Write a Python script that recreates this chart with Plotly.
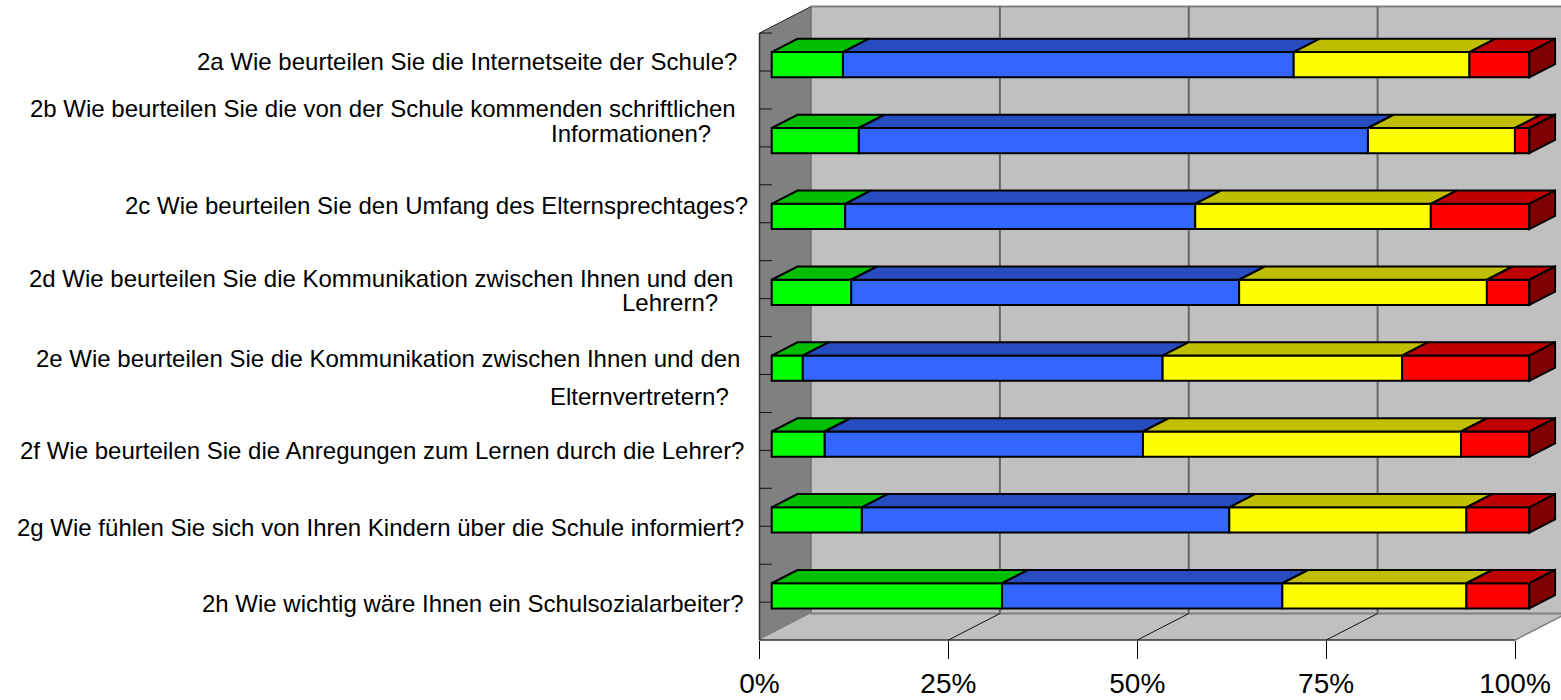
import numpy as np
import plotly.graph_objects as go

# ---- data (percent shares) ----
categories = ["2a", "2b", "2c", "2d", "2e", "2f", "2g", "2h"]
sehr_gut = [9.4, 11.5, 9.7, 10.5, 4.1, 7.0, 11.9, 30.4]
gut = [59.5, 67.2, 46.2, 51.2, 47.5, 42.0, 48.5, 37.0]
weniger_gut = [23.2, 19.4, 31.1, 32.7, 31.6, 42.0, 31.3, 24.3]
schlecht = [7.9, 1.9, 13.0, 5.6, 16.8, 9.0, 8.3, 8.3]
x_ticks = [0, 25, 50, 75, 100]
x_tick_text = ["0%", "25%", "50%", "75%", "100%"]

label_lines = [
    ("2a Wie beurteilen Sie die Internetseite der Schule?", 739, 62),
    ("2b Wie beurteilen Sie die von der Schule kommenden schriftlichen", 738, 109),
    ("Informationen?", 713, 134),
    ("2c Wie beurteilen Sie den Umfang des Elternsprechtages?", 750, 205),
    ("2d Wie beurteilen Sie die Kommunikation zwischen Ihnen und den", 735, 278),
    ("Lehrern?", 720, 302),
    ("2e Wie beurteilen Sie die Kommunikation zwischen Ihnen und den", 742, 358),
    ("Elternvertretern?", 731, 396),
    ("2f Wie beurteilen Sie die Anregungen zum Lernen durch die Lehrer?", 746, 451),
    ("2g Wie fühlen Sie sich von Ihren Kindern über die Schule informiert?", 746, 527),
    ("2h Wie wichtig wäre Ihnen ein Schulsozialarbeiter?", 746, 603),
]

# ---- layout / projection ----
W, H = 1561, 700
PX_PER_PCT = 7.555
X0_PX = 759.5
ROW_PX = 75.875
ROW0_PX = 71.0
x_range = [-X0_PX / PX_PER_PCT, (W - X0_PX) / PX_PER_PCT]
y_range = [(H - ROW0_PX) / ROW_PX, -ROW0_PX / ROW_PX]
DX = 51.5 / PX_PER_PCT        # depth offset, percent units
DY = -26.5 / ROW_PX           # depth offset, row units
Z0, Z1 = 0.237, 0.737         # bar front and back in depth
BAR_SCALE = 1.0028
BAR_H = 0.332
TOP, BOTTOM = -0.5, 7.5
BORDER = dict(color="black", width=2)

rows = np.arange(len(categories), dtype=float)
series = [
    ("sehr gut", sehr_gut, "#00FF00", "#00BF00"),
    ("gut", gut, "#3366FF", "#264CBF"),
    ("weniger gut", weniger_gut, "#FFFF00", "#BFBF00"),
    ("schlecht", schlecht, "#FF0000", "#BF0000"),
]
SIDE = "#7F0000"


def poly(xs, ys, fill=None, line=None, width=1.0, layer="below"):
    path = "M " + " L ".join(f"{a},{b}" for a, b in zip(xs, ys))
    if fill:
        path += " Z"
    return dict(type="path", path=path, xref="x", yref="y", layer=layer,
                fillcolor=fill or "rgba(0,0,0,0)",
                line=dict(color=line or "rgba(0,0,0,0)", width=width))


shapes = [
    # back wall
    poly([DX, 100 + DX, 100 + DX, DX], [TOP + DY, TOP + DY, BOTTOM + DY, BOTTOM + DY], "#C0C0C0"),
    # floor
    poly([0, DX, 100 + DX, 100], [BOTTOM, BOTTOM + DY, BOTTOM + DY, BOTTOM], "#C0C0C0"),
    # side wall
    poly([0, DX, DX, 0], [TOP, TOP + DY, BOTTOM + DY, BOTTOM], "#808080"),
    # wall edges
    poly([DX, 100 + DX], [TOP + DY, TOP + DY], line="#808080", width=2),
    poly([DX, 100 + DX], [BOTTOM + DY, BOTTOM + DY], line="#808080", width=2),
    poly([DX, DX], [TOP + DY, BOTTOM + DY], line="#707070", width=1.5),
    poly([100, 100 + DX], [BOTTOM, BOTTOM + DY], line="#808080", width=1.5),
    poly([0, DX], [TOP, TOP + DY], line="#222222", width=1),
    poly([0, 0], [TOP, BOTTOM], line="#333333", width=1.5),
    poly([0, 100], [BOTTOM, BOTTOM], line="#333333", width=1.5),
]
for t in x_ticks[1:-1]:
    shapes.append(poly([t + DX, t + DX], [TOP + DY, BOTTOM + DY], line="#666666", width=2))
    shapes.append(poly([t, t + DX], [BOTTOM, BOTTOM + DY], line="#111111", width=1))
for k in np.arange(TOP, BOTTOM, 0.5):
    shapes.append(poly([0, Z0 * DX], [k, k], line="#111111", width=1))

fig = go.Figure()
stack = np.zeros(len(categories))
for name, values, front, top in series:
    v = np.array(values, dtype=float)
    start = stack * BAR_SCALE + Z0 * DX
    width = v * BAR_SCALE
    fig.add_trace(go.Bar(
        name=name, orientation="h", y=rows + Z0 * DY, x=width, base=start,
        width=BAR_H, marker=dict(color=front, line=BORDER), hoverinfo="skip",
    ))
    xs, ys = [], []
    for s, w, r in zip(start, width, rows):
        yf = r + Z0 * DY - BAR_H / 2
        d = Z1 - Z0
        xs += [s, s + d * DX, s + w + d * DX, s + w, s, None]
        ys += [yf, yf + d * DY, yf + d * DY, yf, yf, None]
    fig.add_trace(go.Scatter(x=xs, y=ys, mode="lines", fill="toself", fillcolor=top,
                             line=BORDER, hoverinfo="skip"))
    stack = stack + v

# right-hand end faces
end = stack * BAR_SCALE + Z0 * DX
xs, ys = [], []
d = Z1 - Z0
for e, r in zip(end, rows):
    yf = r + Z0 * DY - BAR_H / 2
    yb = r + Z0 * DY + BAR_H / 2
    xs += [e, e + d * DX, e + d * DX, e, e, None]
    ys += [yf, yf + d * DY, yb + d * DY, yb, yf, None]
fig.add_trace(go.Scatter(x=xs, y=ys, mode="lines", fill="toself", fillcolor=SIDE,
                         line=BORDER, hoverinfo="skip"))

annotations = [
    dict(text=t, xref="paper", yref="paper", x=px / W, y=1 - py / H, xanchor="right",
         yanchor="middle", showarrow=False, xshift=0,
         font=dict(family="Liberation Sans, Arial", size=24, color="black"))
    for t, px, py in label_lines
]

fig.update_layout(
    width=W, height=H, margin=dict(l=0, r=0, t=0, b=0, autoexpand=False), paper_bgcolor="white",
    plot_bgcolor="white", showlegend=False, barmode="overlay", shapes=shapes,
    annotations=annotations,
    xaxis=dict(range=x_range, domain=[0, 1], anchor="free", position=(H - 640) / H,
               tickmode="array", tickvals=x_ticks, ticktext=x_tick_text, ticks="outside",
               ticklen=18, tickwidth=1, tickcolor="black", showgrid=False, zeroline=False,
               showline=False, ticklabelstandoff=0,
               tickfont=dict(family="Liberation Sans, Arial", size=28, color="black")),
    yaxis=dict(range=y_range, domain=[0, 1], visible=False, showgrid=False, zeroline=False),
)

fig.write_html("out.html", post_script="document.body.style.margin='0';",
               config=dict(displayModeBar=False))
